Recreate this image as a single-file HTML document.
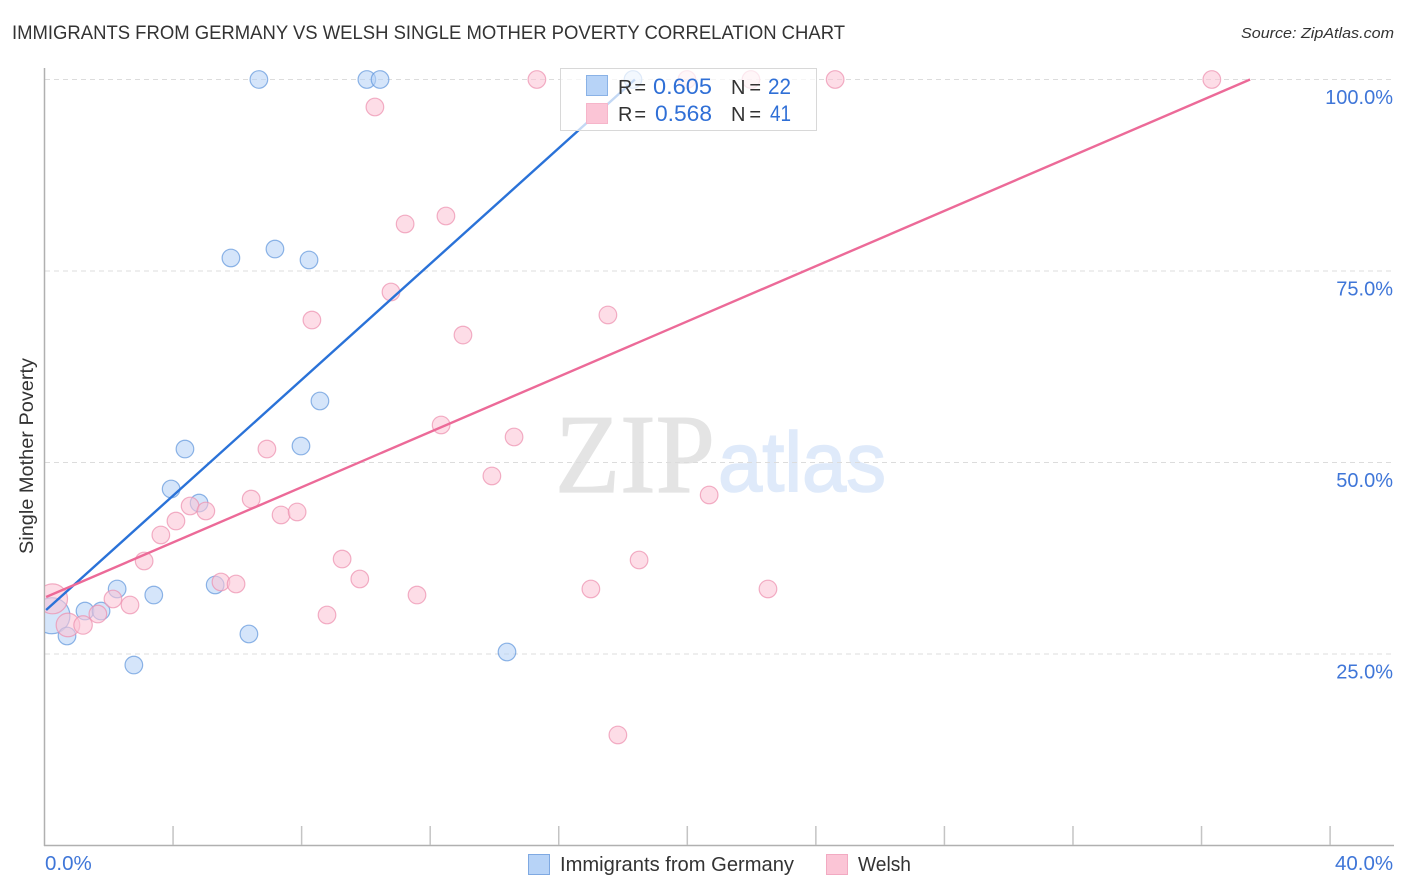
<!DOCTYPE html>
<html lang="en">
<head>
<meta charset="utf-8">
<title>Immigrants from Germany vs Welsh Single Mother Poverty Correlation Chart</title>
<style>
html,body{margin:0;padding:0;background:#fff;}
svg{display:block;font-family:"Liberation Sans",sans-serif;}
</style>
</head>
<body>
<svg id="chart" xmlns="http://www.w3.org/2000/svg" width="1406" height="892" viewBox="0 0 1406 892">
  <defs>
    <clipPath id="plot-clip"><rect x="45" y="60" width="1350" height="785"/></clipPath>
  </defs>
  <rect x="0" y="0" width="1406" height="892" fill="#ffffff"/>
  <text x="12" y="39" font-size="19" fill="#333333" textLength="833" lengthAdjust="spacingAndGlyphs">IMMIGRANTS FROM GERMANY VS WELSH SINGLE MOTHER POVERTY CORRELATION CHART</text>
  <text x="1394" y="38" font-size="15" font-style="italic" fill="#333333" text-anchor="end" textLength="153" lengthAdjust="spacingAndGlyphs">Source: ZipAtlas.com</text>
  <g>
    <text x="555" y="492" font-family="'Liberation Serif',serif" font-size="112" fill="#e4e4e4" stroke="#e4e4e4" stroke-width="1.2" textLength="160" lengthAdjust="spacingAndGlyphs">ZIP</text>
    <text x="718" y="491" font-size="84" fill="#dfeafa" stroke="#dfeafa" stroke-width="1.6" textLength="168" lengthAdjust="spacingAndGlyphs">atlas</text>
  </g>
  <g id="grid"></g>
  <g id="axes"></g>
  <g id="marks" clip-path="url(#plot-clip)"></g>
  <g id="tick-labels"></g>
  <text transform="translate(33,456) rotate(-90)" font-size="19" fill="#333333" text-anchor="middle" textLength="196" lengthAdjust="spacingAndGlyphs">Single Mother Poverty</text>

  <g>
    <rect x="560.5" y="68.5" width="256" height="62" fill="#ffffff" fill-opacity="0.72" stroke="#d8d8d8" stroke-width="1"/>
    <rect x="586.5" y="75.5" width="21" height="20" fill="#b7d3f7" stroke="#8ab2e6" stroke-width="1"/>
    <rect x="586.5" y="103.5" width="21" height="20" fill="#fbc5d6" stroke="#f6b5ca" stroke-width="1"/>
    <text x="618" y="94" font-size="20" fill="#333333" textLength="28" lengthAdjust="spacing">R =</text>
    <text x="653" y="94" font-size="22" fill="#2f6fd6" textLength="59" lengthAdjust="spacingAndGlyphs">0.605</text>
    <text x="731" y="94" font-size="20" fill="#333333" textLength="30" lengthAdjust="spacing">N =</text>
    <text x="768" y="94" font-size="22" fill="#2f6fd6" textLength="23" lengthAdjust="spacingAndGlyphs">22</text>
    <text x="618" y="121" font-size="20" fill="#333333" textLength="28" lengthAdjust="spacing">R =</text>
    <text x="655" y="121" font-size="22" fill="#2f6fd6" textLength="57" lengthAdjust="spacingAndGlyphs">0.568</text>
    <text x="731" y="121" font-size="20" fill="#333333" textLength="30" lengthAdjust="spacing">N =</text>
    <text x="770" y="121" font-size="22" fill="#2f6fd6" textLength="21" lengthAdjust="spacingAndGlyphs">41</text>
  </g>

  <g>
    <rect x="528.5" y="854.5" width="21" height="20" fill="#b7d3f7" stroke="#7fa9e2" stroke-width="1"/>
    <text x="560" y="871" font-size="20" fill="#333333" textLength="234" lengthAdjust="spacingAndGlyphs">Immigrants from Germany</text>
    <rect x="826.5" y="854.5" width="21" height="20" fill="#fbc5d6" stroke="#f2aac2" stroke-width="1"/>
    <text x="858" y="871" font-size="20" fill="#333333" textLength="53" lengthAdjust="spacingAndGlyphs">Welsh</text>
  </g>
</svg>
<script>
const germanyX = [0.23,0.70,1.26,1.76,2.26,2.78,3.40,3.94,4.37,4.81,5.31,5.80,6.36,6.67,7.17,7.98,8.23,8.57,10.03,10.44,14.39,18.31];
const germanyY = [30.0,27.35,30.61,30.61,33.49,23.56,32.70,46.54,51.76,44.71,34.01,76.70,27.61,100,77.87,52.15,76.44,58.03,100,100,25.26,100];
const germanyWeight = [4.2,1,1,1,1,1,1,1,1,1,1,1,1,1,1,1,1,1,1,1,1,1];
const welshX = [0.25,0.73,1.20,1.66,2.13,2.66,3.10,3.62,4.09,4.53,5.02,5.49,5.96,6.43,6.92,7.36,7.86,8.32,8.79,9.26,9.81,10.28,10.78,11.22,11.59,12.34,12.49,13.02,13.92,14.61,15.32,17.00,17.53,17.84,18.50,19.99,20.68,21.98,22.51,24.60,36.32];
const welshY = [32.20,28.79,28.79,30.22,32.18,31.40,37.14,40.54,42.36,44.32,43.67,34.40,34.14,45.23,51.76,43.15,43.54,68.60,30.09,37.40,34.79,96.41,72.26,81.14,32.70,54.90,82.18,66.64,48.24,53.33,100,33.49,69.26,14.43,37.27,100,45.76,100,33.49,100,100];
const welshWeight = [2.9,1.8,1.1,1,1,1,1,1,1,1,1,1,1,1,1,1,1,1,1,1,1,1,1,1,1,1,1,1,1,1,1,1,1,1,1,1,1,1,1,1,1];
const germanyTrendX = [0.05,18.37];
const germanyTrendY = [30.74,100];
const welshTrendX = [0.05,37.51];
const welshTrendY = [32.44,100];
const yTicks = [25,50,75,100];
const yTickLabels = ["25.0%","50.0%","75.0%","100.0%"];
const xTicks = [0,4,8,12,16,20,24,28,32,36,40];
const xEndTicks = [0,40];
const xEndLabels = ["0.0%","40.0%"];

const NS = "http://www.w3.org/2000/svg";
const xScale = v => 44.5 + v * 32.14;
const yScale = v => 79.5 + (100 - v) * 7.66;
function make(tag, attrs, parent) {
  const el = document.createElementNS(NS, tag);
  for (const k in attrs) el.setAttribute(k, attrs[k]);
  parent.appendChild(el);
  return el;
}
const grid = document.getElementById("grid");
const axes = document.getElementById("axes");
const marks = document.getElementById("marks");
const labels = document.getElementById("tick-labels");

yTicks.forEach((t, i) => {
  const y = yScale(t);
  const line = make("line", {x1:45, x2:1393, y1:y, y2:y, stroke:"#dcdcdc", "stroke-width":1, "stroke-dasharray":"5 4"}, grid);
  
  
  const label = make("text", {x:1393, y:y + 24.5, "font-size":20, fill:"#3f76d8", "text-anchor":"end"}, labels);
  label.textContent = yTickLabels[i];
  
  
});

const yAxis = make("line", {x1:44.5, x2:44.5, y1:68, y2:846, stroke:"#b0b0b0", "stroke-width":1.5}, axes);


const xAxis = make("line", {x1:44, x2:1394, y1:845.5, y2:845.5, stroke:"#b0b0b0", "stroke-width":1.5}, axes);


xTicks.forEach(t => {
  if (t === 0) return;
  const x = xScale(t);
  const tick = make("line", {x1:x, x2:x, y1:826, y2:845, stroke:"#c4c4c4", "stroke-width":1.5}, axes);
  
  
});
xEndTicks.forEach((t, i) => {
  const label = make("text", {x: i === 0 ? xScale(t) + 0.5 : xScale(t) + 63, y:870, "font-size":20.5, fill:"#3f76d8", "text-anchor": i === 0 ? "start" : "end"}, labels);
  label.textContent = xEndLabels[i];
  
  
});

function drawPoints(xs, ys, ws, fill, stroke, name) {
  xs.forEach((v, i) => {
    const c = make("circle", {cx:xScale(v), cy:yScale(ys[i]), r:8.8 * Math.sqrt(ws[i]), fill:fill, "fill-opacity":0.58, stroke:stroke, "stroke-opacity":0.7, "stroke-width":1.2}, marks);
    
    
  });
}
drawPoints(germanyX, germanyY, germanyWeight, "#b7d3f7", "#5f95dc", "germany-point");
drawPoints(welshX, welshY, welshWeight, "#fbc5d6", "#ec8fae", "welsh-point");

const germanyLine = make("line", {x1:xScale(germanyTrendX[0]), y1:yScale(germanyTrendY[0]), x2:xScale(germanyTrendX[1]), y2:yScale(germanyTrendY[1]), stroke:"#2a72d8", "stroke-width":2.4}, marks);


const welshLine = make("line", {x1:xScale(welshTrendX[0]), y1:yScale(welshTrendY[0]), x2:xScale(welshTrendX[1]), y2:yScale(welshTrendY[1]), stroke:"#ec6a98", "stroke-width":2.4}, marks);


</script>
</body>
</html>
